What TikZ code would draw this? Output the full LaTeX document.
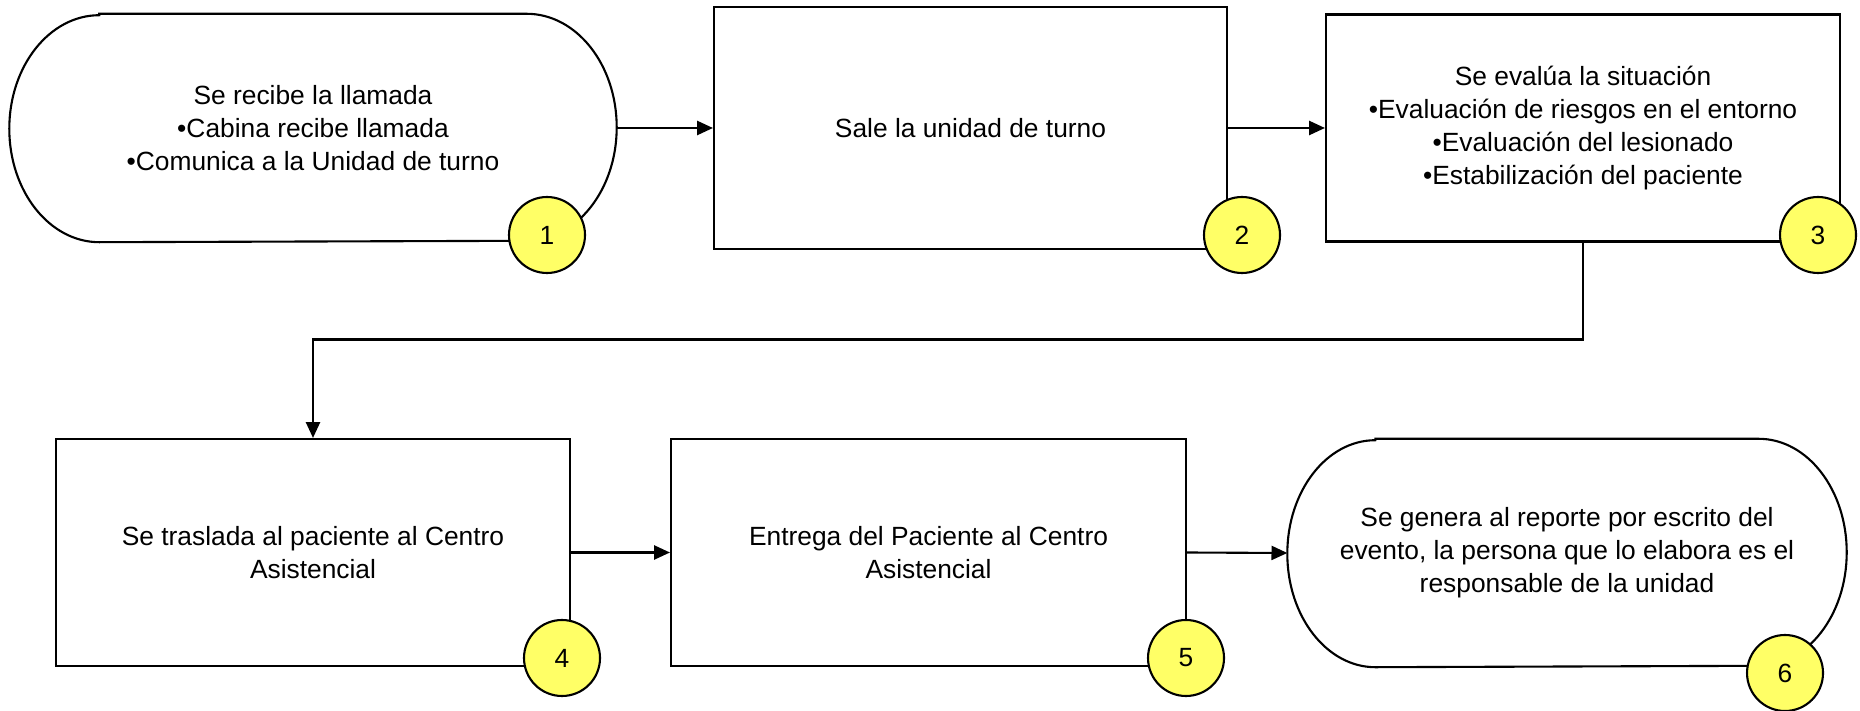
\documentclass[tikz,border=0pt]{standalone}
\usepackage{fontspec}
\setmainfont{Liberation Sans}
\usetikzlibrary{calc,arrows.meta}

\definecolor{amarillo}{RGB}{255,255,102}

\tikzset{
  linea/.style={line width=0.6pt},
  proceso/.style={linea, draw, minimum width=#1, minimum height=2.27cm, align=center, inner sep=0pt},
  terminal/.style={minimum width=#1, minimum height=2.27cm, align=center, inner sep=0pt},
  numero/.style={linea, draw, circle, fill=amarillo, minimum size=0.76cm, inner sep=0pt},
  flecha/.style={linea, -{Triangle[length=4.5pt,width=4pt]}}
}

% contorno de inicio/fin con extremos elipticos
\newcommand{\bordeterminal}[2]{%
  \draw[linea] ($(#1.north west)+(#2,0)$) -- ($(#1.north east)+(-#2,0)$)
    arc[start angle=90, end angle=-90, x radius=#2, y radius=1.135]
    -- ($(#1.south west)+(#2,0)$)
    arc[start angle=270, end angle=90, x radius=#2, y radius=1.135] -- cycle;}

\begin{document}
\begin{tikzpicture}[font=\fontsize{7.5}{9.35}\selectfont]
        \useasboundingbox (0,0) rectangle (18.6,-7.11);

        % Fila superior
        \node[terminal=6.06cm] (recibe) at (3.13,-1.28)
            {Se recibe la llamada\\•Cabina recibe llamada\\•Comunica a la Unidad de turno};
        \node[proceso=5.13cm, minimum height=2.42cm] (sale) at (9.705,-1.28)
            {Sale la unidad de turno};
        \node[proceso=5.14cm] (evalua) at (15.83,-1.28)
            {Se evalúa la situación\\•Evaluación de riesgos en el entorno\\•Evaluación del lesionado\\•Estabilización del paciente};

        % Fila inferior
        \node[proceso=5.14cm] (traslada) at (3.13,-5.525)
            {Se traslada al paciente al Centro\\Asistencial};
        \node[proceso=5.15cm] (entrega) at (9.285,-5.525)
            {Entrega del Paciente al Centro\\Asistencial};
        \node[terminal=5.58cm] (reporte) at (15.67,-5.53)
            {Se genera al reporte por escrito del\\evento, la persona que lo elabora es el\\responsable de la unidad};

        \bordeterminal{recibe}{0.9}
        \bordeterminal{reporte}{0.88}

        % Conectores
        \begin{scope}
            \draw[flecha] (recibe.east) -- (sale.west);
            \draw[flecha] (sale.east) -- (evalua.west);
            \draw[flecha] (evalua.south) -- ++(0,-0.97) -| (traslada.north);
            \draw[flecha] (traslada.east) -- (entrega.west);
            \draw[flecha] (entrega.east) -- (reporte.west);
        \end{scope}

        % Numeros de paso
        \node[numero] (num1) at (5.47,-2.35) {1};
        \node[numero] (num2) at (12.42,-2.35) {2};
        \node[numero] (num3) at (18.18,-2.35) {3};
        \node[numero] (num4) at (5.62,-6.58) {4};
        \node[numero] (num5) at (11.86,-6.58) {5};
        \node[numero] (num6) at (17.85,-6.73) {6};

    \end{tikzpicture}
\end{document}
